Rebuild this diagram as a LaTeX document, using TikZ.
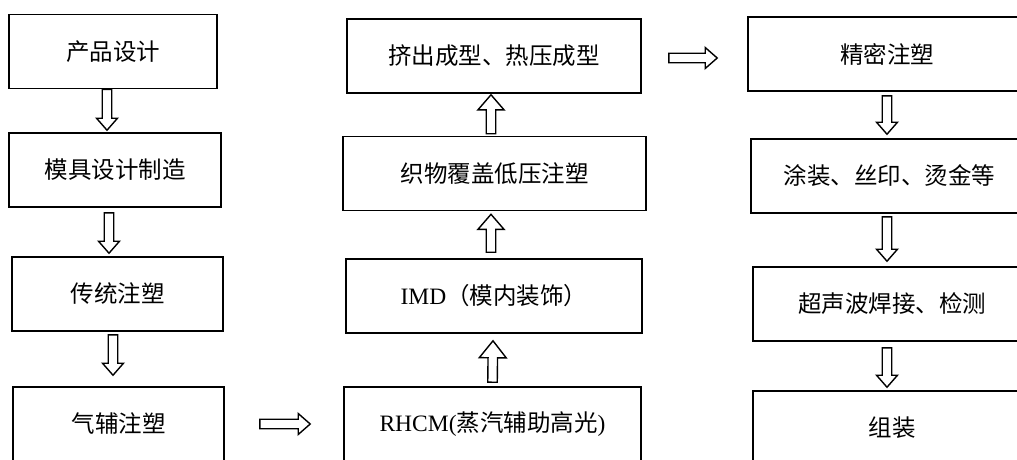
\documentclass[tikz,border=0pt]{standalone}
\usepackage{fontspec}
\setmainfont{Liberation Serif}
\newfontfamily\cjk{Noto Sans CJK SC}
\usetikzlibrary{calc}

\tikzset{
  arrhw/.store in=\arrhw, arrhw=10.5pt,
  arrhl/.store in=\arrhl, arrhl=12pt,
  blk/.style={line width=1.4pt, line join=miter,
    to path={let \p1=(\tikztostart), \p2=(\tikztotarget),
      \n1={atan2(\y2-\y1,\x2-\x1)}, \p3=($(\p2)!\arrhl!(\p1)$) in
      ($(\p1)+(\n1+90:4.75pt)$) -- ($(\p3)+(\n1+90:4.75pt)$) -- ($(\p3)+(\n1+90:\arrhw)$)
      -- (\p2) -- ($(\p3)+(\n1-90:\arrhw)$) -- ($(\p3)+(\n1-90:4.75pt)$)
      -- ($(\p1)+(\n1-90:4.75pt)$) -- cycle}}
}

\begin{document}
\begin{tikzpicture}[x=1pt,y=-1pt,
  box/.style={draw, line width=1.6pt, minimum height=74pt, inner sep=0pt,
    font=\fontsize{23.5}{28}\selectfont}]
\useasboundingbox (0,0) rectangle (1017,459);
% left column
\node [box, minimum width=208pt] (design) at (113,51.5) {\cjk 产品设计};
\node [box, minimum width=212pt] (mold) at (115,170) {\cjk 模具设计制造};
\node [box, minimum width=211pt] (conv) at (117.5,294) {\cjk 传统注塑};
\node [box, minimum width=211pt] (gas) at (118.5,424) {\cjk 气辅注塑};
% middle column
\node [box, minimum width=294pt] (extr) at (494,56) {\cjk 挤出成型、热压成型};
\node [box, minimum width=303pt] (fabric) at (494.5,173.5) {\cjk 织物覆盖低压注塑};
\node [box, minimum width=296pt] (imd) at (494,296) {IMD{\cjk （模内装饰）}};
\node [box, minimum width=297pt] (rhcm) at (492.5,424) {RHCM({\cjk 蒸汽辅助高光})};
% right column
\node [box, minimum width=278pt] (prec) at (887,54) {\cjk 精密注塑};
\node [box, minimum width=277pt] (paint) at (889.5,176) {\cjk 涂装、丝印、烫金等};
\node [box, minimum width=278pt] (weld) at (892,304) {\cjk 超声波焊接、检测};
\node [box, minimum width=278pt] (assy) at (892,428) {\cjk 组装};
% block arrows
\draw [blk] ([xshift=-6pt]design.south) to ([xshift=-8pt,yshift=2pt]mold.north);
\draw [blk] ([xshift=-6pt,yshift=-5pt]mold.south) to ([xshift=-8.5pt,yshift=3pt]conv.north);
\draw [blk] ([xshift=-4.5pt,yshift=-3pt]conv.south) to ([xshift=-5.5pt,yshift=11pt]gas.north);
\draw [blk] ([xshift=35pt]gas.east) to ([xshift=-33pt]rhcm.west);
\draw [blk, arrhw=13.5pt, arrhl=17pt] ([yshift=4pt]rhcm.north) to ([xshift=-1pt,yshift=-7pt]imd.south);
\draw [blk, arrhw=13pt, arrhl=15pt] ([xshift=-3pt,yshift=6pt]imd.north) to ([xshift=-3.5pt,yshift=-3pt]fabric.south);
\draw [blk, arrhw=13pt, arrhl=15pt] ([xshift=-3.5pt,yshift=2pt]fabric.north) to ([xshift=-3pt,yshift=-1pt]extr.south);
\draw [blk] ([xshift=27pt,yshift=-2pt]extr.east) to ([xshift=-30pt,yshift=-4pt]prec.west);
\draw [blk] ([yshift=-4pt]prec.south) to ([xshift=-2.5pt,yshift=4pt]paint.north);
\draw [blk] ([xshift=-2.5pt,yshift=-3pt]paint.south) to ([xshift=-5pt,yshift=5pt]weld.north);
\draw [blk] ([xshift=-5pt,yshift=-6pt]weld.south) to ([xshift=-5pt,yshift=3pt]assy.north);
\end{tikzpicture}
\end{document}
